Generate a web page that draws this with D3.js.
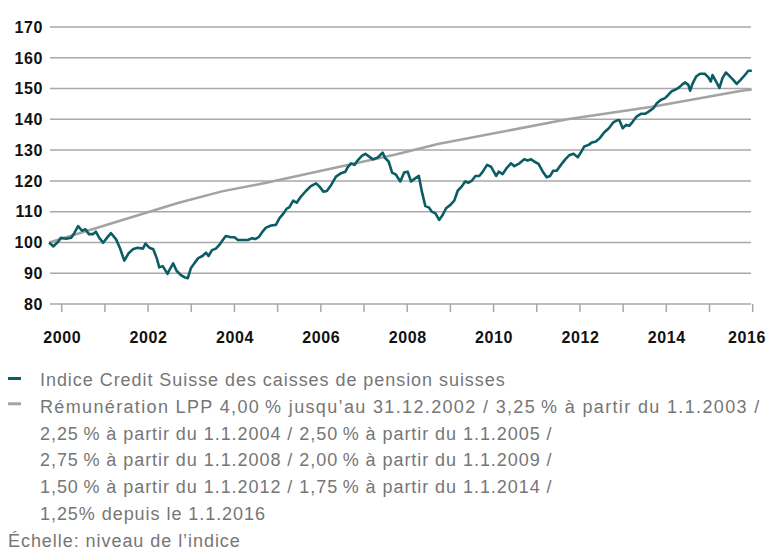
<!DOCTYPE html>
<html>
<head>
<meta charset="utf-8">
<script src="https://cdn.jsdelivr.net/npm/d3@7"></script>
<style>
  body { margin: 0; background: #fff; }
  svg { display: block; }
  .tick-label { font-family: "Liberation Sans", Arial, sans-serif; font-weight: bold; font-size: 16px; fill: #111; letter-spacing: 0.6px; }
  .legend-text { font-family: "Liberation Sans", Arial, sans-serif; font-size: 18px; fill: #767676; letter-spacing: 0.95px; }
</style>
</head>
<body>
<div id="chart"></div>
<script>
// Credit Suisse pension fund index vs. LPP minimum interest

// ==========================================================
// Data

// teal line: Indice Credit Suisse des caisses de pension suisses
var indexYears = [
  1999.71, 1999.81, 1999.91, 1999.98, 2000.10, 2000.22, 2000.29, 2000.38, 2000.47, 2000.55,
  2000.63, 2000.72, 2000.79, 2000.87, 2000.96, 2001.07, 2001.14, 2001.26, 2001.35, 2001.45,
  2001.55, 2001.66, 2001.76, 2001.88, 2001.94, 2002.03, 2002.12, 2002.20, 2002.26, 2002.34,
  2002.45, 2002.50, 2002.58, 2002.66, 2002.76, 2002.84, 2002.92, 2002.99, 2003.07, 2003.16,
  2003.26, 2003.34, 2003.40, 2003.48, 2003.57, 2003.65, 2003.73, 2003.80, 2003.92, 2004.00,
  2004.08, 2004.19, 2004.31, 2004.41, 2004.48, 2004.56, 2004.65, 2004.73, 2004.85, 2004.96,
  2005.04, 2005.15, 2005.21, 2005.27, 2005.36, 2005.44, 2005.54, 2005.66, 2005.77, 2005.89,
  2005.96, 2006.06, 2006.14, 2006.24, 2006.35, 2006.47, 2006.57, 2006.62, 2006.70, 2006.78,
  2006.85, 2006.95, 2007.03, 2007.12, 2007.21, 2007.32, 2007.43, 2007.49, 2007.57, 2007.65,
  2007.74, 2007.84, 2007.93, 2008.01, 2008.09, 2008.19, 2008.27, 2008.34, 2008.42, 2008.50,
  2008.57, 2008.65, 2008.74, 2008.82, 2008.90, 2009.00, 2009.09, 2009.17, 2009.27, 2009.34,
  2009.42, 2009.50, 2009.58, 2009.67, 2009.75, 2009.85, 2009.94, 2010.06, 2010.12, 2010.21,
  2010.30, 2010.40, 2010.48, 2010.60, 2010.71, 2010.79, 2010.87, 2010.94, 2011.04, 2011.14,
  2011.23, 2011.31, 2011.38, 2011.46, 2011.56, 2011.66, 2011.75, 2011.85, 2011.95, 2012.02,
  2012.10, 2012.20, 2012.28, 2012.37, 2012.46, 2012.56, 2012.67, 2012.77, 2012.85, 2012.91,
  2012.99, 2013.07, 2013.14, 2013.22, 2013.31, 2013.41, 2013.51, 2013.59, 2013.70, 2013.78,
  2013.87, 2013.97, 2014.05, 2014.12, 2014.20, 2014.28, 2014.36, 2014.43, 2014.51, 2014.55,
  2014.61, 2014.69, 2014.78, 2014.89, 2014.97, 2015.03, 2015.07, 2015.15, 2015.23, 2015.30,
  2015.38, 2015.46, 2015.55, 2015.63, 2015.72, 2015.82, 2015.90, 2015.98
];
var indexValues = [
  100.0, 98.7, 100.1, 101.5, 101.2, 101.5, 103.0, 105.3, 103.8, 104.3,
  102.7, 102.7, 103.5, 101.5, 99.9, 101.9, 103.0, 101.0, 98.1, 94.1,
  96.5, 97.9, 98.3, 98.0, 99.6, 98.3, 97.8, 94.9, 91.9, 92.3,
  89.8, 91.2, 93.2, 90.8, 89.4, 88.7, 88.4, 91.6, 93.2, 94.9,
  95.6, 96.7, 95.6, 97.5, 98.0, 99.2, 100.8, 102.1, 101.7, 101.7,
  100.8, 100.8, 100.8, 101.4, 101.1, 101.7, 103.5, 104.8, 105.5, 105.7,
  107.8, 109.7, 111.0, 111.4, 113.6, 112.9, 114.9, 116.8, 118.3, 119.2,
  118.3, 116.5, 116.7, 118.7, 121.4, 122.5, 123.0, 124.4, 125.7, 125.2,
  126.6, 128.1, 128.8, 127.9, 127.0, 127.6, 129.2, 127.4, 126.3, 122.7,
  122.0, 119.8, 122.7, 123.0, 119.8, 120.9, 121.6, 116.5, 111.8, 111.4,
  110.0, 109.5, 107.3, 108.9, 111.1, 112.2, 113.6, 116.8, 118.3, 119.8,
  119.4, 120.1, 121.6, 121.6, 123.0, 125.2, 124.6, 121.6, 123.0, 122.2,
  124.1, 125.7, 124.8, 125.7, 127.0, 126.6, 127.0, 126.3, 125.5, 123.0,
  121.2, 121.6, 123.3, 123.3, 125.2, 127.0, 128.3, 128.8, 127.7, 129.2,
  131.2, 131.7, 132.5, 132.8, 133.9, 135.7, 137.1, 139.0, 139.6, 139.8,
  137.1, 138.2, 137.9, 139.2, 140.9, 141.8, 141.8, 142.5, 143.6, 145.2,
  146.3, 146.9, 148.0, 149.1, 149.6, 150.2, 151.2, 152.0, 151.2, 149.3,
  151.7, 153.9, 154.8, 154.8, 153.7, 152.3, 154.4, 152.3, 150.2, 153.4,
  155.2, 154.1, 152.8, 151.5, 152.8, 154.4, 155.8, 155.8
];

// grey line: Rémunération LPP
var lppYears  = [1999.71, 2002.71, 2003.71, 2004.71, 2007.71, 2008.71, 2011.71, 2013.71, 2015.71, 2015.98];
var lppValues = [100.0,   112.9,   116.6,   119.3,   128.5,   132.0,   140.0,   144.2,   149.2,   149.7];

var yTicks = [80, 90, 100, 110, 120, 130, 140, 150, 160, 170];
var xTickYears = d3.range(2000, 2017);
var xLabelYears = [2000, 2002, 2004, 2006, 2008, 2010, 2012, 2014, 2016];

var legendLines = [
  "Indice Credit Suisse des caisses de pension suisses",
  "Rémunération LPP 4,00\u2009% jusqu’au 31.12.2002 / 3,25\u2009% à partir du 1.1.2003 /",
  "2,25\u2009% à partir du 1.1.2004 / 2,50\u2009% à partir du 1.1.2005 /",
  "2,75\u2009% à partir du 1.1.2008 / 2,00\u2009% à partir du 1.1.2009 /",
  "1,50\u2009% à partir du 1.1.2012 / 1,75\u2009% à partir du 1.1.2014 /",
  "1,25% depuis le 1.1.2016"
];
var scaleNote = "Échelle: niveau de l’indice";

// ==========================================================
// Size

var svgWidth = 766;
var svgHeight = 550;

var svg = d3.select("#chart")
  .append("svg")
  .attr("width", svgWidth)
  .attr("height", svgHeight);

// scales
var xScale = d3.scaleLinear()
  .domain([2000, 2016])
  .range([61.7, 752.7]);

var yScale = d3.scaleLinear()
  .domain([80, 170])
  .range([304, 27]);

var plotLeft = 50;
var plotRight = 751;

// gridlines
svg.append("g")
  .selectAll("line")
  .data(yTicks)
  .enter()
  .append("line")
  .attr("x1", plotLeft)
  .attr("x2", plotRight)
  .attr("y1", d => yScale(d))
  .attr("y2", d => yScale(d))
  .attr("stroke", "#a8a8a8")
  .attr("stroke-width", 1.5);

// y labels
svg.append("g")
  .selectAll("text")
  .data(yTicks)
  .enter()
  .append("text")
  .attr("class", "tick-label")
  .attr("x", 43)
  .attr("y", d => yScale(d))
  .attr("dy", "0.36em")
  .attr("text-anchor", "end")
  .text(d => d);

// x ticks (yearly)
svg.append("g")
  .selectAll("line")
  .data(xTickYears)
  .enter()
  .append("line")
  .attr("x1", d => xScale(d))
  .attr("x2", d => xScale(d))
  .attr("y1", yScale(80))
  .attr("y2", yScale(80) + 8)
  .attr("stroke", "#a8a8a8")
  .attr("stroke-width", 1.5);

// x labels (last one pulled in so it stays inside the picture)
svg.append("g")
  .selectAll("text")
  .data(xLabelYears)
  .enter()
  .append("text")
  .attr("class", "tick-label")
  .attr("x", d => d === 2016 ? svgWidth : xScale(d) + 0.5)
  .attr("y", 343)
  .attr("text-anchor", d => d === 2016 ? "end" : "middle")
  .text(d => d);

// lines
var lppLine = d3.line()
  .x((d, i) => xScale(lppYears[i]))
  .y(d => yScale(d));

var indexLine = d3.line()
  .x((d, i) => xScale(indexYears[i]))
  .y(d => yScale(d));

svg.append("path")
  .datum(lppValues)
  .attr("fill", "none")
  .attr("stroke", "#a3a3a3")
  .attr("stroke-width", 2.5)
  .attr("stroke-linejoin", "round")
  .attr("d", lppLine);

svg.append("path")
  .datum(indexValues)
  .attr("fill", "none")
  .attr("stroke", "#0b5d65")
  .attr("stroke-width", 2.6)
  .attr("stroke-linejoin", "round")
  .attr("d", indexLine);

// ==========================================================
// Legend

var legendTop = 386;
var lineStep = 26.8;

var legend = svg.append("g");

legend.append("line")
  .attr("x1", 8).attr("x2", 21)
  .attr("y1", legendTop - 7.5).attr("y2", legendTop - 7.5)
  .attr("stroke", "#0b5d65")
  .attr("stroke-width", 3);

legend.append("line")
  .attr("x1", 8).attr("x2", 21)
  .attr("y1", legendTop + lineStep - 9).attr("y2", legendTop + lineStep - 9)
  .attr("stroke", "#a3a3a3")
  .attr("stroke-width", 3);

legend.selectAll("text.item")
  .data(legendLines)
  .enter()
  .append("text")
  .attr("class", "legend-text item")
  .attr("x", 40)
  .attr("y", (d, i) => legendTop + i * lineStep)
  // the long LPP line runs a bit wider in the original typeface
  .style("letter-spacing", (d, i) => i === 1 ? "1.35px" : null)
  .text(d => d);

legend.append("text")
  .attr("class", "legend-text")
  .attr("x", 8)
  .attr("y", legendTop + legendLines.length * lineStep)
  .text(scaleNote);
</script>
</body>
</html>
